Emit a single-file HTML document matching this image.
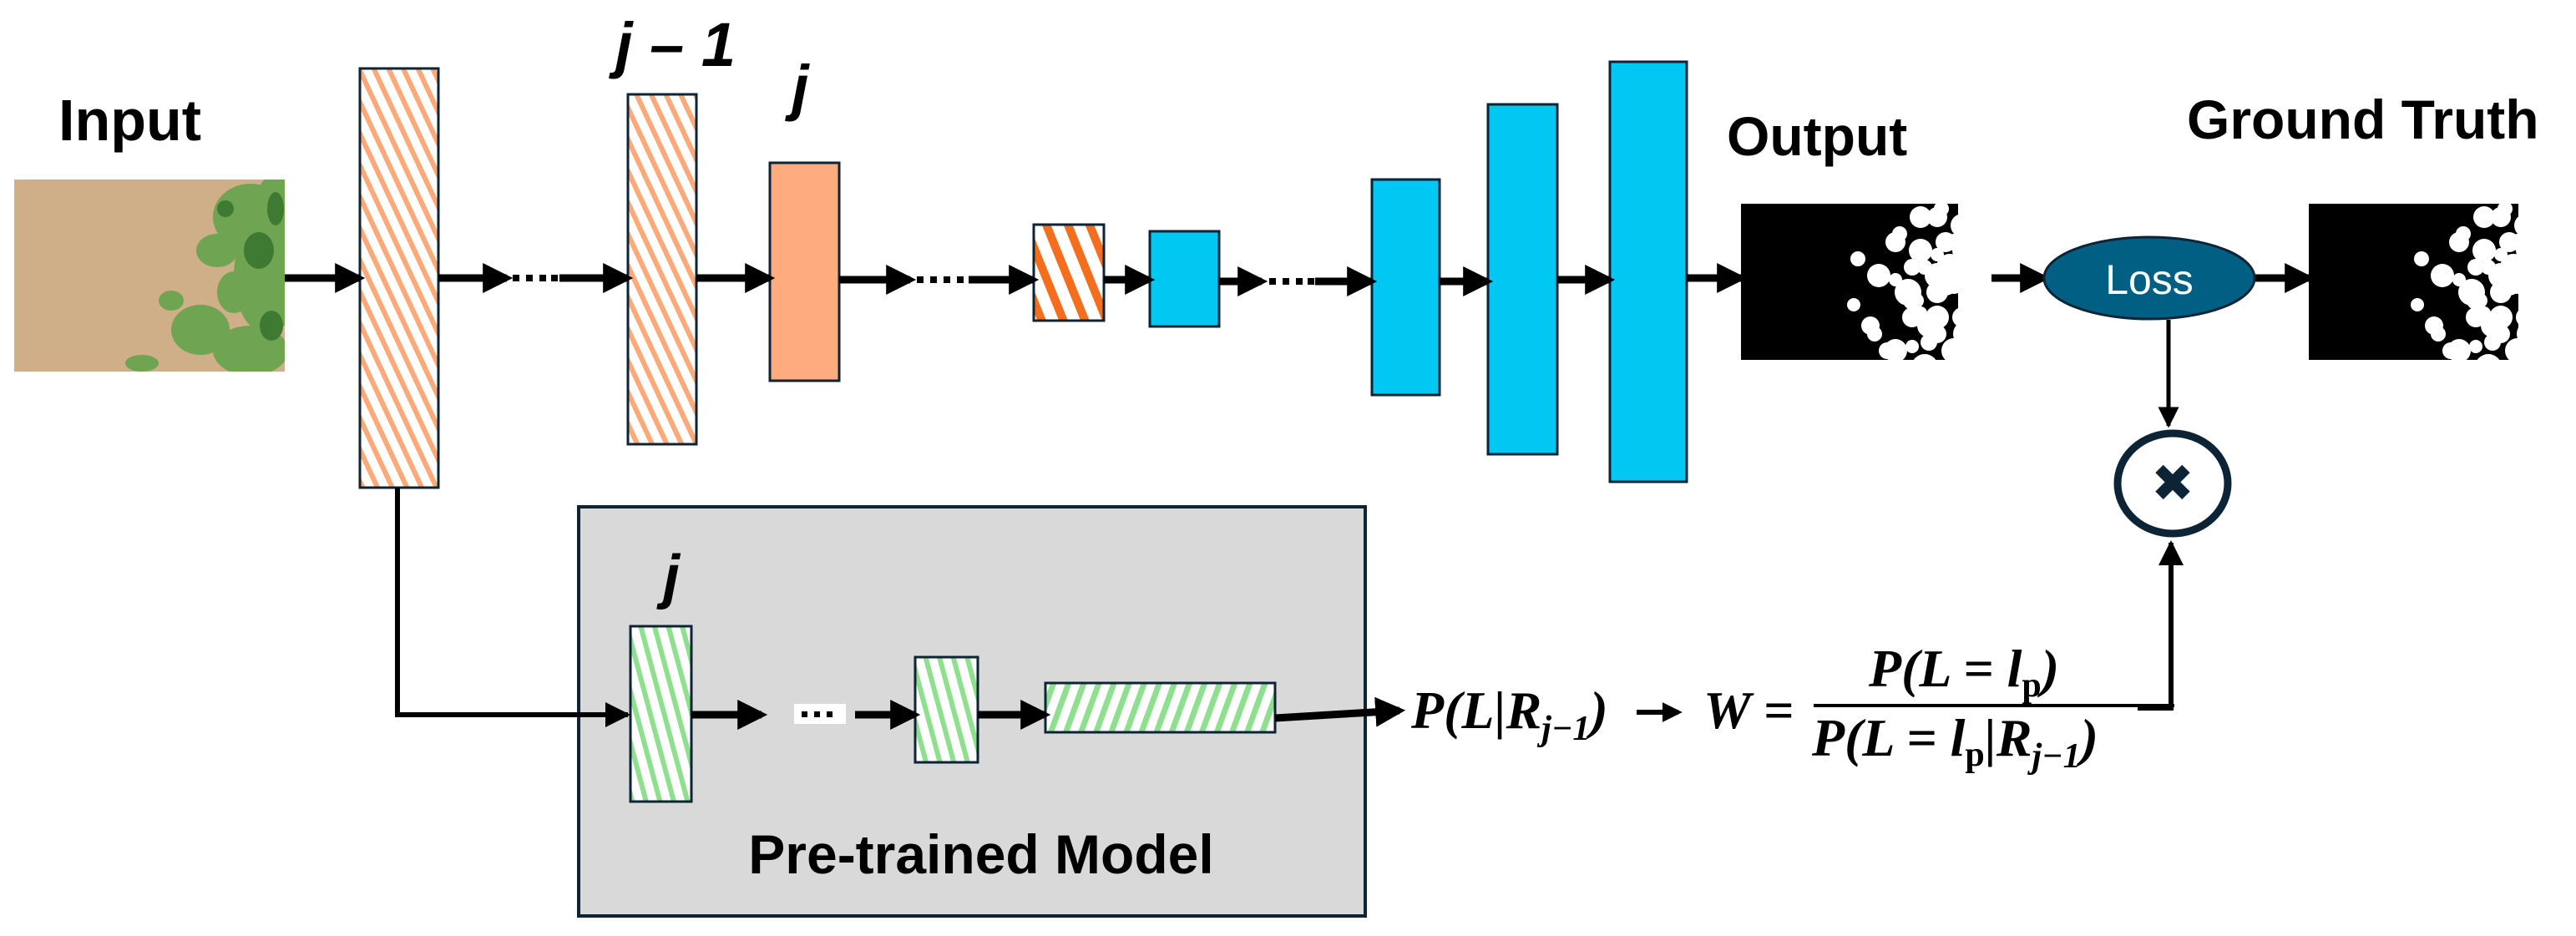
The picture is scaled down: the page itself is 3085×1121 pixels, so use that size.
<!DOCTYPE html>
<html><head><meta charset="utf-8"><style>
html,body{margin:0;padding:0;background:#fff;}
svg{display:block;}
</style></head><body>
<svg width="3085" height="1121" viewBox="0 0 3085 1121" xmlns="http://www.w3.org/2000/svg" font-family="Liberation Sans, sans-serif">
<defs>
<pattern id="hO" width="16" height="16" patternUnits="userSpaceOnUse" patternTransform="rotate(-25)">
<rect width="16" height="16" fill="#fff"/><rect width="6" height="16" fill="#FFA878"/></pattern>
<pattern id="hD" width="24" height="24" patternUnits="userSpaceOnUse" patternTransform="rotate(-22)">
<rect width="24" height="24" fill="#fff"/><rect width="10" height="24" fill="#F56E1E"/></pattern>
<pattern id="hG" width="16" height="16" patternUnits="userSpaceOnUse" patternTransform="rotate(-15)">
<rect width="16" height="16" fill="#fff"/><rect width="6" height="16" fill="#8EE08E"/></pattern>
<pattern id="hG2" width="17" height="17" patternUnits="userSpaceOnUse" patternTransform="rotate(20)">
<rect width="17" height="17" fill="#fff"/><rect width="7" height="17" fill="#8EE08E"/></pattern>
<marker id="ah" markerWidth="4" markerHeight="4" refX="3.2" refY="2" orient="auto" markerUnits="strokeWidth">
<path d="M0,0 L4,2 L0,4 Z" fill="#000"/></marker>
<marker id="ah2" markerWidth="5" markerHeight="5" refX="4.5" refY="2.5" orient="auto" markerUnits="strokeWidth">
<path d="M0,0 L5,2.5 L0,5 Z" fill="#000"/></marker>
<clipPath id="c1"><rect x="2085" y="244" width="300" height="187"/></clipPath>
<clipPath id="c2"><rect x="2765" y="244" width="291" height="187"/></clipPath>
<clipPath id="ci"><rect x="17" y="215" width="324" height="230"/></clipPath>
<g id="blobs">
<circle cx="0" cy="0" r="14"/><circle cx="20" cy="-40" r="12"/><circle cx="35" cy="20" r="16"/><circle cx="-10" cy="60" r="11"/>
<circle cx="50" cy="-70" r="13"/><circle cx="60" cy="60" r="14"/><circle cx="-25" cy="-20" r="9"/><circle cx="70" cy="0" r="15"/>
<circle cx="10" cy="90" r="10"/><circle cx="40" cy="-10" r="10"/><circle cx="80" cy="-40" r="12"/><circle cx="-30" cy="35" r="8"/>
</g>
</defs>

<!-- Input image -->
<rect x="17" y="215" width="324" height="230" fill="#CFAF88"/>
<g clip-path="url(#ci)">
<g fill="#6FA552">
<ellipse cx="300" cy="260" rx="45" ry="40"/><ellipse cx="320" cy="330" rx="40" ry="70"/><ellipse cx="260" cy="300" rx="25" ry="20"/>
<ellipse cx="240" cy="395" rx="35" ry="30"/><ellipse cx="300" cy="420" rx="45" ry="30"/><ellipse cx="205" cy="360" rx="15" ry="12"/>
<ellipse cx="330" cy="230" rx="20" ry="20"/><ellipse cx="170" cy="435" rx="20" ry="10"/><ellipse cx="280" cy="350" rx="20" ry="25"/>
</g>
<g fill="#3F7A33"><ellipse cx="310" cy="300" rx="18" ry="22"/><ellipse cx="325" cy="390" rx="14" ry="18"/><ellipse cx="270" cy="250" rx="10" ry="10"/><ellipse cx="330" cy="250" rx="10" ry="20"/></g>
</g>

<text x="70" y="168" font-size="70" font-weight="bold">Input</text>
<text x="737" y="79" font-size="74" font-weight="bold" font-style="italic">j – 1</text>
<text x="948" y="130" font-size="74" font-weight="bold" font-style="italic">j</text>
<text x="2068" y="186" font-size="66" font-weight="bold">Output</text>
<text x="2619" y="166" font-size="66" font-weight="bold">Ground Truth</text>

<!-- encoder boxes -->
<rect x="431" y="82" width="94" height="502" fill="url(#hO)" stroke="#0D2436" stroke-width="3"/>
<rect x="752" y="113" width="82" height="419" fill="url(#hO)" stroke="#0D2436" stroke-width="3"/>
<rect x="922" y="195" width="83" height="261" fill="#FFAB80" stroke="#0D2436" stroke-width="3"/>
<rect x="1238" y="269" width="84" height="115" fill="url(#hD)" stroke="#0D2436" stroke-width="3"/>
<rect x="1377" y="277" width="83" height="114" fill="#00C8F2" stroke="#0D2436" stroke-width="3"/>
<rect x="1643" y="215" width="81" height="258" fill="#00C8F2" stroke="#0D2436" stroke-width="3"/>
<rect x="1782" y="125" width="83" height="419" fill="#00C8F2" stroke="#0D2436" stroke-width="3"/>
<rect x="1928" y="74" width="92" height="503" fill="#00C8F2" stroke="#0D2436" stroke-width="3"/>

<!-- main arrows -->
<g stroke="#000" stroke-width="9" fill="none" marker-end="url(#ah)">
<line x1="341" y1="333" x2="430" y2="333"/>
<line x1="525" y1="333" x2="607" y2="333"/>
<line x1="670" y1="333" x2="751" y2="333"/>
<line x1="834" y1="333" x2="921" y2="333"/>
<line x1="1005" y1="335" x2="1090" y2="335"/>
<line x1="1160" y1="335" x2="1237" y2="335"/>
<line x1="1322" y1="335" x2="1376" y2="335"/>
<line x1="1460" y1="337" x2="1511" y2="337"/>
<line x1="1575" y1="337" x2="1642" y2="337"/>
<line x1="1724" y1="337" x2="1781" y2="337"/>
<line x1="1865" y1="335" x2="1927" y2="335"/>
<line x1="2020" y1="333" x2="2085" y2="333"/>
<line x1="2385" y1="333" x2="2448" y2="333"/>
<line x1="2701" y1="333" x2="2765" y2="333"/>
</g>
<g fill="#000">
<rect x="614" y="329" width="8" height="8"/><rect x="630" y="329" width="8" height="8"/><rect x="646" y="329" width="8" height="8"/><rect x="660" y="329" width="8" height="8"/>
<rect x="1098" y="331" width="8" height="8"/><rect x="1114" y="331" width="8" height="8"/><rect x="1130" y="331" width="8" height="8"/><rect x="1146" y="331" width="8" height="8"/>
<rect x="1520" y="333" width="8" height="8"/><rect x="1536" y="333" width="8" height="8"/><rect x="1552" y="333" width="8" height="8"/><rect x="1566" y="333" width="8" height="8"/>
</g>

<!-- output masks -->
<rect x="2085" y="244" width="300" height="187" fill="#000"/>
<g clip-path="url(#c1)" fill="#fff">
<rect x="2345" y="244" width="40" height="187"/>
<use href="#blobs" x="2300" y="300"/><use href="#blobs" x="2320" y="380"/><use href="#blobs" x="2270" y="420"/>
<use href="#blobs" x="2350" y="270"/><use href="#blobs" x="2330" y="340"/><use href="#blobs" x="2250" y="330"/>
</g>
<rect x="2765" y="244" width="291" height="187" fill="#000"/>
<g clip-path="url(#c2)" fill="#fff">
<rect x="3016" y="244" width="40" height="187"/>
<use href="#blobs" x="2975" y="300"/><use href="#blobs" x="2995" y="380"/><use href="#blobs" x="2945" y="420"/>
<use href="#blobs" x="3025" y="270"/><use href="#blobs" x="3005" y="340"/><use href="#blobs" x="2925" y="330"/>
</g>

<!-- Loss -->
<ellipse cx="2574" cy="333" rx="126" ry="49" fill="#005F83" stroke="#0D2436" stroke-width="3"/>
<text x="2574" y="352" font-size="50" fill="#fff" text-anchor="middle">Loss</text>
<line x1="2597" y1="383" x2="2597" y2="510" stroke="#000" stroke-width="5" marker-end="url(#ah2)"/>

<!-- multiply circle -->
<ellipse cx="2602" cy="579" rx="66" ry="60" fill="#fff" stroke="#0D2436" stroke-width="9"/>
<text x="2602" y="600" font-size="62" text-anchor="middle" fill="#0D2436" font-family="DejaVu Sans, sans-serif">✖</text>

<!-- pretrained box -->
<rect x="693" y="607" width="942" height="490" fill="#D9D9D9" stroke="#0D2436" stroke-width="4"/>
<text x="794" y="715" font-size="72" font-weight="bold" font-style="italic">j</text>
<text x="1175" y="1046" font-size="66" font-weight="bold" text-anchor="middle">Pre-trained Model</text>
<rect x="755" y="750" width="73" height="210" fill="url(#hG)" stroke="#0D2436" stroke-width="3"/>
<rect x="1096" y="787" width="75" height="126" fill="url(#hG)" stroke="#0D2436" stroke-width="3"/>
<rect x="1252" y="818" width="275" height="59" fill="url(#hG2)" stroke="#0D2436" stroke-width="3"/>

<polyline points="476,584 476,856 752,856" fill="none" stroke="#000" stroke-width="6" marker-end="url(#ah2)"/>
<g stroke="#000" stroke-width="9" fill="none" marker-end="url(#ah)">
<line x1="828" y1="856" x2="912" y2="856"/>
<line x1="1024" y1="856" x2="1095" y2="856"/>
<line x1="1171" y1="856" x2="1251" y2="856"/>
<line x1="1527" y1="860" x2="1676" y2="851"/>
</g>
<rect x="951" y="843" width="62" height="24" fill="#fff"/>
<g fill="#000"><rect x="960" y="852" width="7" height="7"/><rect x="975" y="852" width="7" height="7"/><rect x="990" y="852" width="7" height="7"/></g>

<!-- formula -->
<g font-family="Liberation Serif, serif" font-style="italic" font-weight="bold" font-size="64">
<text x="1690" y="872">P(L|R<tspan font-size="42" dy="14">j−1</tspan><tspan dy="-14">)</tspan></text>
<text x="2040" y="872">W =</text>
<text x="2238" y="822">P(L = l<tspan font-size="42" dy="12" font-style="normal">p</tspan><tspan dy="-12">)</tspan></text>
<text x="2170" y="905">P(L = l<tspan font-size="42" dy="12" font-style="normal">p</tspan><tspan dy="-12">|R</tspan><tspan font-size="42" dy="14">j−1</tspan><tspan dy="-14">)</tspan></text>
</g>
<line x1="1960" y1="853" x2="2010" y2="853" stroke="#000" stroke-width="6" marker-end="url(#ah)"/>
<line x1="2172" y1="845" x2="2604" y2="845" stroke="#000" stroke-width="4"/>
<polyline points="2560,848 2600,848 2600,650" fill="none" stroke="#000" stroke-width="6" marker-end="url(#ah2)"/>
</svg>
</body></html>
